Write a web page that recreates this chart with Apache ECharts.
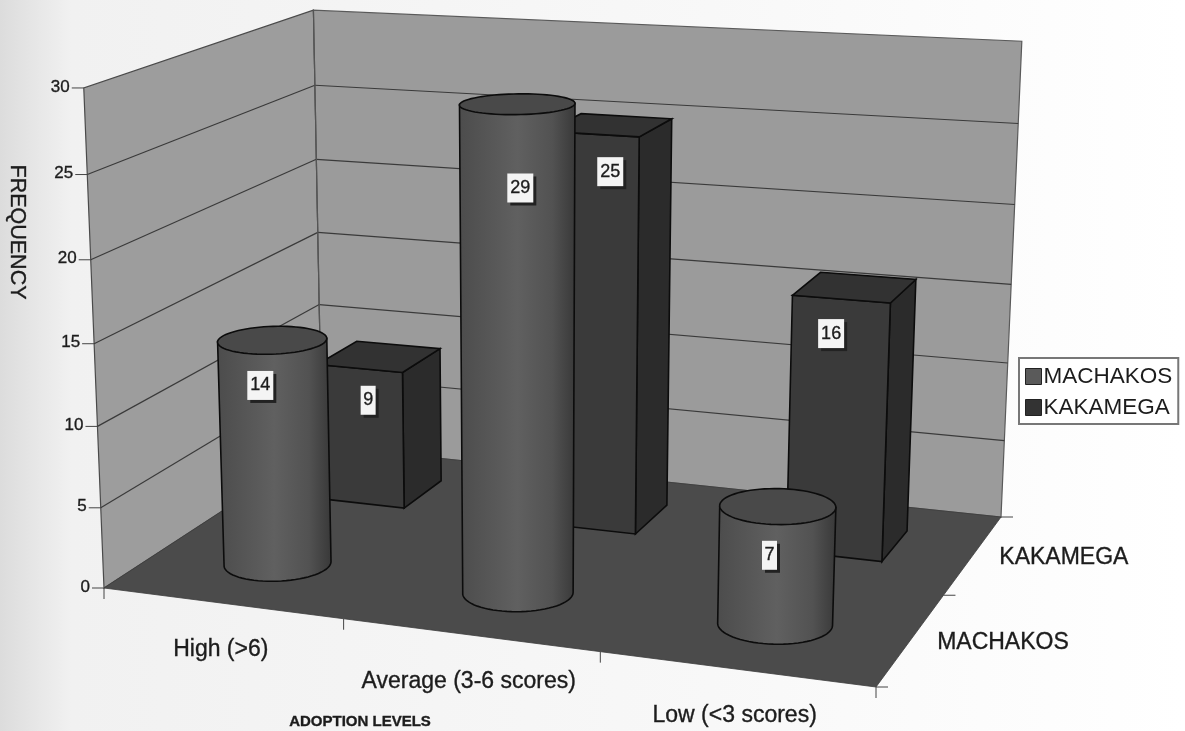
<!DOCTYPE html>
<html>
<head>
<meta charset="utf-8">
<style>
html, body { margin: 0; padding: 0; background: #f8f8f8; }
#chart { width: 1185px; height: 731px; }
</style>
<script src="https://cdn.jsdelivr.net/npm/echarts@6/dist/echarts.min.js"></script>
</head>
<body>
<div id="chart"></div>
<script>
const categories = ["High (>6)", "Average (3-6 scores)", "Low (<3 scores)"];
const depthNames = ["MACHAKOS", "KAKAMEGA"];
const machakos = [14, 29, 7];
const kakamega = [9, 25, 16];
const yTicks = [0, 5, 10, 15, 20, 25, 30];

// floor corners as seen on the page, and how the picture changes going up
const FLOOR = [[104, 588], [876, 687], [1001, 517], [322, 446]];
const LIFT = [-24, -504, -0.045];
const GRID = {left: 0, top: 0, width: 900, height: 600};
const FONT = "Liberation Sans";

// unit square -> quad
function homography(q) {
	const [[x0, y0], [x1, y1], [x2, y2], [x3, y3]] = q;
	const dx1 = x1 - x2, dx2 = x3 - x2, sx = x0 - x1 + x2 - x3;
	const dy1 = y1 - y2, dy2 = y3 - y2, sy = y0 - y1 + y2 - y3;
	const den = dx1 * dy2 - dx2 * dy1;
	const g = (sx * dy2 - dx2 * sy) / den;
	const h = (dx1 * sy - sx * dy1) / den;
	return [
		[x1 - x0 + g * x1, x3 - x0 + h * x3, x0],
		[y1 - y0 + g * y1, y3 - y0 + h * y3, y0],
		[g, h, 1]
	];
}
const M = homography(FLOOR);

// u: 0-1 along categories, d: 0-1 front to back, h: 0-1 up
function project(u, d, h) {
	const w = M[2][0] * u + M[2][1] * d + M[2][2] + LIFT[2] * h;
	return [
		(M[0][0] * u + M[0][1] * d + M[0][2] + LIFT[0] * h) / w,
		(M[1][0] * u + M[1][1] * d + M[1][2] + LIFT[1] * h) / w
	];
}
// axis scales -> box fractions
function uOf(api, cat, frac) {
	return (api.coord([cat, 0])[0] + frac * api.size([1, 0])[0] - GRID.left) / GRID.width;
}
function hOf(api, val) {
	return 1 - (api.coord([0, val])[1] - GRID.top) / GRID.height;
}
function depthOf(name) {
	return (depthNames.indexOf(name) + 0.5) / depthNames.length;
}

function poly(points, fill, stroke, lw) {
	return {type: "polygon", shape: {points}, style: {fill, stroke: stroke || null, lineWidth: lw || 0}};
}
function seg(a, b, stroke, lw) {
	return {type: "line", shape: {x1: a[0], y1: a[1], x2: b[0], y2: b[1]}, style: {stroke, lineWidth: lw || 1}};
}
function txt(text, x, y, size, extra) {
	return {
		type: "text", x, y,
		rotation: extra && extra.rotation || 0,
		style: {
			text, fill: "#1c1c1c", stroke: "#1c1c1c", lineWidth: 0.35,
			font: (extra && extra.bold ? "bold " : "") + size + 'px "' + FONT + '"',
			textAlign: extra && extra.align || "center", textVerticalAlign: "middle"
		}
	};
}
function tag(value, x, y) {
	const w = String(value).length > 1 ? 26 : 15, h = 29;
	return [
		{type: "rect", shape: {x: x - w / 2 + 3, y: y - h / 2 + 3, width: w, height: h}, style: {fill: "#222"}},
		{type: "rect", shape: {x: x - w / 2, y: y - h / 2, width: w, height: h}, style: {fill: "#f4f4f4"}},
		txt(String(value), x, y, 18)
	];
}

function renderFrame(params, api) {
	const c = [];
	const FL = project(0, 0, 0), BL = project(0, 1, 0), BR = project(1, 1, 0), FR = project(1, 0, 0);
	const FLt = project(0, 0, 1), BLt = project(0, 1, 1), BRt = project(1, 1, 1);
	c.push(poly([FL, BL, BLt, FLt], "#9d9d9d", "#4a4a4a", 1.2));
	c.push(poly([BL, BR, BRt, BLt], "#9b9b9b", "#5a5a5a", 1.2));
	yTicks.forEach(t => {
		const h = hOf(api, t);
		const a = project(0, 0, h), b = project(0, 1, h), e = project(1, 1, h);
		if (t > 0 && t < 30) {
			c.push(seg(a, b, "#3a3a3a", 1.2));
			c.push(seg(b, e, "#3a3a3a", 1.2));
		}
		c.push(seg(a, [a[0] - 12, a[1]], "#444", 1));
		c.push(txt(String(t), a[0] - 14, a[1] - 1, 17, {align: "right"}));
	});
	c.push(seg(BL, BLt, "#555", 1.2));
	c.push(poly([FL, FR, BR, BL], "#4b4b4b", "#3c3c3c", 0.8));
	// category ticks and labels
	categories.forEach((name, i) => {
		const a = project(uOf(api, i, -0.5), 0, 0);
		c.push(seg(a, [a[0], a[1] + 11], "#444", 1));
		const m = project(uOf(api, i, 0), 0, 0);
		c.push(txt(name, m[0] - 1, m[1] + 47, 23));
	});
	c.push(seg(FR, [FR[0], FR[1] + 11], "#444", 1));
	// depth ticks and labels
	[0, 0.5, 1].forEach(d => {
		const a = project(1, d, 0);
		c.push(seg(a, [a[0] + 12, a[1]], "#444", 1));
	});
	depthNames.forEach(name => {
		const a = project(1, depthOf(name), 0);
		c.push(txt(name, a[0] + 26, a[1] + 3, 23, {align: "left"}));
	});
	c.push(txt("FREQUENCY", 17, 232, 21.5, {rotation: -Math.PI / 2}));
	c.push(txt("ADOPTION LEVELS", 360, 722, 15, {bold: true}));
	return {type: "group", children: c};
}

const boxDrop = {0: 2.1, 1: 2.3, 2: 2.1};
const cylDrop = {0: 2.8, 1: 4.8, 2: 2.9};
const labelShift = {cyl: [-13, 3, -7], box: [8, 18, -9]};

function renderBox(params, api) {
	const cat = api.value(0), val = api.value(1);
	const u0 = uOf(api, cat, -0.19), u1 = uOf(api, cat, 0.19);
	const dc = depthOf("KAKAMEGA"), d0 = dc - 0.1, d1 = dc + 0.1, h = hOf(api, val);
	const A = project(u0, d0, 0), B = project(u1, d0, 0), C = project(u1, d1, 0);
	const At = project(u0, d0, h), Bt = project(u1, d0, h), Ct = project(u1, d1, h), Dt = project(u0, d1, h);
	const lb = project((u0 + u1) / 2, d0, hOf(api, val - boxDrop[cat]));
	return {
		type: "group",
		children: [
			poly([B, C, Ct, Bt], "#2b2b2b", "#0c0c0c", 1.6),
			poly([A, B, Bt, At], "#3a3a3a", "#0c0c0c", 1.6),
			poly([At, Bt, Ct, Dt], "#323232", "#0c0c0c", 1.6)
		].concat(tag(val, lb[0] + labelShift.box[cat], lb[1]))
	};
}

function ellipse(api, cat, dc, h) {
	const pts = [];
	for (let i = 0; i < 72; i++) {
		const t = (i / 72) * Math.PI * 2;
		const u = uOf(api, cat, 0.207 * Math.cos(t));
		pts.push(project(u, dc + 0.106 * Math.sin(t), h));
	}
	return pts;
}

function renderCylinder(params, api) {
	const cat = api.value(0), val = api.value(1);
	const dc = depthOf("MACHAKOS") - 0.006, h = hOf(api, val);
	const bottom = ellipse(api, cat, dc, 0), top = ellipse(api, cat, dc, h);
	const ext = (pts, sign) => pts.reduce((best, p, i) => (sign * p[0] > sign * pts[best][0] ? i : best), 0);
	const iL = ext(bottom, -1), iR = ext(bottom, 1);
	const body = [top[ext(top, -1)], top[ext(top, 1)]];
	// round the front of the base from right to left
	const arc = [];
	for (let i = iL; i !== iR; i = (i + 1) % 72) arc.push(bottom[i]);
	arc.push(bottom[iR]);
	arc.reverse().forEach(p => body.push(p));
	const fill = new echarts.graphic.LinearGradient(0, 0, 1, 0, [
		{offset: 0, color: "#4c4c4c"},
		{offset: 0.5, color: "#606060"},
		{offset: 0.8, color: "#525252"},
		{offset: 1, color: "#383838"}
	]);
	const lb = project(uOf(api, cat, 0), dc, hOf(api, val - cylDrop[cat]));
	return {
		type: "group",
		children: [
			poly(body, fill, "#0c0c0c", 1.6),
			poly(top, "#494949", "#0c0c0c", 1.6)
		].concat(tag(val, lb[0] + labelShift.cyl[cat], lb[1]))
	};
}

const chart = echarts.init(document.getElementById("chart"));
chart.setOption({
	animation: false,
	backgroundColor: new echarts.graphic.LinearGradient(0, 0, 1, 0, [
		{offset: 0, color: "#dcdcdc"},
		{offset: 0.06, color: "#f1f1f1"},
		{offset: 0.6, color: "#f8f8f8"},
		{offset: 1, color: "#ffffff"}
	]),
	grid: GRID,
	xAxis: {type: "category", data: categories, show: false},
	yAxis: {type: "value", min: 0, max: 30, interval: 5, show: false},
	legend: {
		data: ["MACHAKOS", "KAKAMEGA"],
		orient: "vertical",
		left: 1019,
		top: 358,
		padding: [7, 6, 5, 6],
		itemGap: 8,
		itemWidth: 16,
		itemHeight: 16,
		itemStyle: {borderColor: "#222", borderWidth: 1},
		icon: "rect",
		backgroundColor: "#ffffff",
		borderColor: "#777",
		borderWidth: 2,
		textStyle: {fontFamily: FONT, fontSize: 22.5, color: "#1c1c1c", padding: [0, 0, 0, -3]}
	},
	series: [
		{type: "custom", name: "frame", z: 1, silent: true, clip: false, data: [[0, 0]], renderItem: renderFrame},
		{
			type: "custom", name: "KAKAMEGA", z: 2, clip: false,
			itemStyle: {color: "#333333"},
			data: kakamega.map((v, i) => [i, v]),
			encode: {x: 0, y: 1},
			renderItem: renderBox
		},
		{
			type: "custom", name: "MACHAKOS", z: 3, clip: false,
			itemStyle: {color: "#5a5a5a"},
			data: machakos.map((v, i) => [i, v]),
			encode: {x: 0, y: 1},
			renderItem: renderCylinder
		}
	]
});
</script>
</body>
</html>
